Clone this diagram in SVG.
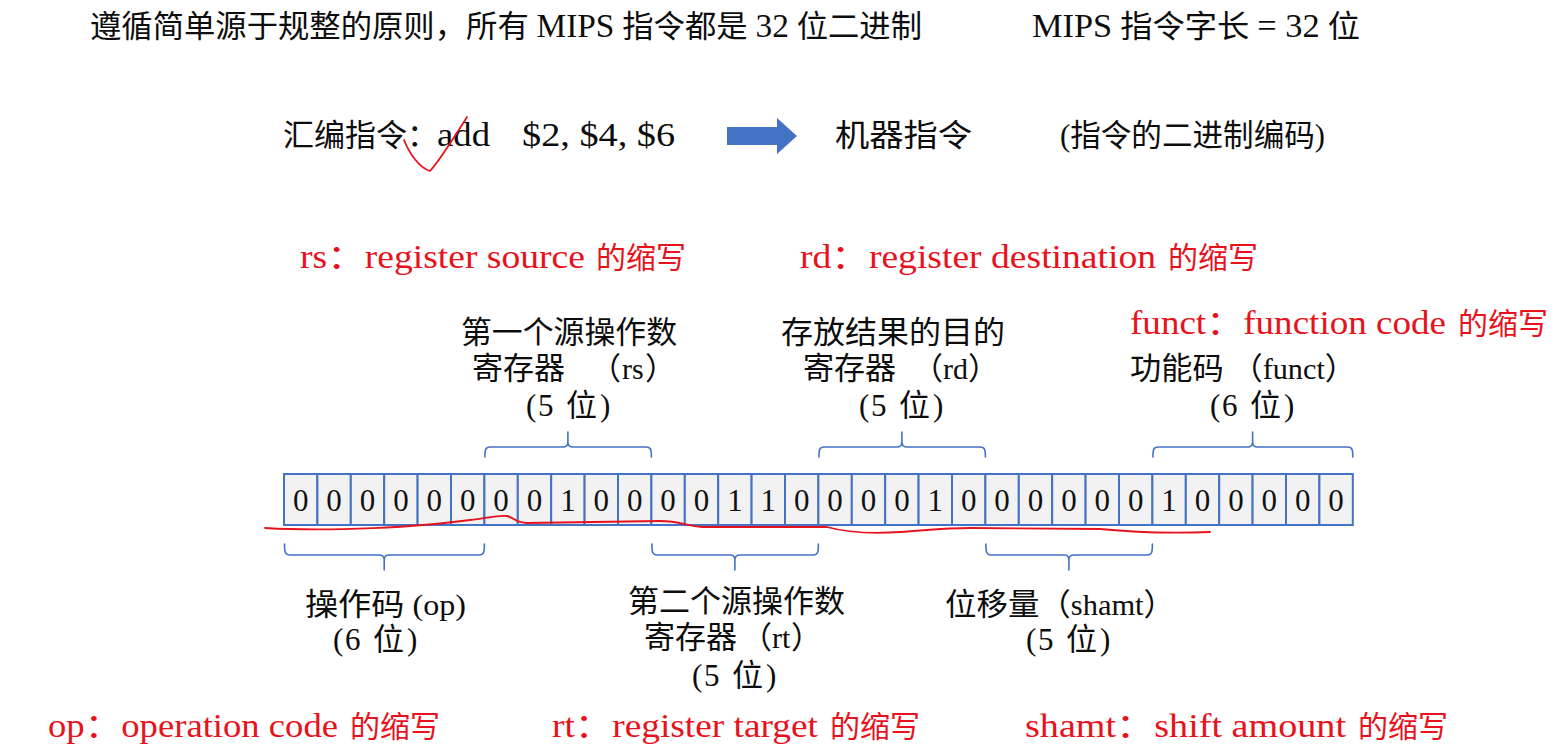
<svg xmlns="http://www.w3.org/2000/svg" width="1564" height="752" viewBox="0 0 1564 752">
  <style>
    .t { font-family: "Liberation Serif", "Noto Sans CJK SC", serif; fill: #0d0d0d; }
    .big { font-size: 31px; }
    .lbl { font-size: 31px; }
    .l { font-size: 33px; }
    .s { font-size: 30px; }
    .w { font-size: 31px; }
    .red { font-family: "Liberation Serif", "Noto Sans CJK SC", serif; fill: #e8121c; font-size: 33px; }
    .redc { font-family: "Noto Sans CJK SC", sans-serif; fill: #e8121c; font-size: 30px; }
    .cell { fill: #f2f2f2; stroke: #4472c4; stroke-width: 2; }
    .bit { font-family: "Liberation Serif", serif; font-size: 31px; fill: #111; text-anchor: middle; }
    .brace { fill: none; stroke: #4472c4; stroke-width: 1.6; stroke-linecap: round; }
    .ink { fill: none; stroke: #e8121c; stroke-width: 1.8; stroke-linecap: round; stroke-linejoin: round; }
  </style>

  <!-- headline -->
  <g id="headline">
    <text class="t big" x="90" y="37" textLength="832" lengthAdjust="spacingAndGlyphs">遵循简单源于规整的原则，所有 <tspan class="l">MIPS</tspan> 指令都是 <tspan class="l">32</tspan> 位二进制</text>
    <text class="t big" x="1032" y="37" textLength="328" lengthAdjust="spacingAndGlyphs"><tspan class="l">MIPS</tspan> 指令字长 <tspan class="l">= 32</tspan> 位</text>
  </g>

  <!-- assembly to machine code -->
  <g id="assembly">
    <text class="t big" x="283" y="146">汇编指令：</text>
    <text class="t l" x="437" y="146" textLength="53" lengthAdjust="spacingAndGlyphs">add</text>
    <text class="t l" x="522" y="146" textLength="153" lengthAdjust="spacingAndGlyphs">$2, $4, $6</text>
  </g>
  <g id="convert-arrow">
    <polygon points="727,127 777,127 777,118 797,136 777,154 777,145 727,145" fill="#4472c4"/>
  </g>
  <g id="machine">
    <text class="t big" x="835" y="146" textLength="137" lengthAdjust="spacingAndGlyphs">机器指令</text>
    <text class="t big" x="1060" y="146" textLength="265" lengthAdjust="spacingAndGlyphs">(指令的二进制编码)</text>
  </g>

  <!-- abbreviation notes -->
  <g id="notes">
    <text class="red" x="300" y="268" textLength="285" lengthAdjust="spacingAndGlyphs">rs：register source</text>
    <text class="redc" x="596" y="268">的缩写</text>
    <text class="red" x="800" y="268" textLength="356" lengthAdjust="spacingAndGlyphs">rd：register destination</text>
    <text class="redc" x="1168" y="268">的缩写</text>
    <text class="red" x="1130" y="334" textLength="316" lengthAdjust="spacingAndGlyphs">funct：function code</text>
    <text class="redc" x="1458" y="334">的缩写</text>
    <text class="red" x="48" y="737" textLength="290" lengthAdjust="spacingAndGlyphs">op：operation code</text>
    <text class="redc" x="350" y="737">的缩写</text>
    <text class="red" x="552" y="737" textLength="266" lengthAdjust="spacingAndGlyphs">rt：register target</text>
    <text class="redc" x="830" y="737">的缩写</text>
    <text class="red" x="1025" y="737" textLength="321" lengthAdjust="spacingAndGlyphs">shamt：shift amount</text>
    <text class="redc" x="1358" y="737">的缩写</text>
  </g>

  <!-- instruction fields: 32 cells, 33.4px each, starting at x=284 -->
  <g id="field-op">
    <rect class="cell" x="284" y="474" width="33.4" height="51"/>
    <rect class="cell" x="317.4" y="474" width="33.4" height="51"/>
    <rect class="cell" x="350.8" y="474" width="33.4" height="51"/>
    <rect class="cell" x="384.2" y="474" width="33.4" height="51"/>
    <rect class="cell" x="417.6" y="474" width="33.4" height="51"/>
    <rect class="cell" x="451" y="474" width="33.4" height="51"/>
    <text class="bit" y="511"><tspan x="300.7">0</tspan><tspan x="334.1">0</tspan><tspan x="367.5">0</tspan><tspan x="400.9">0</tspan><tspan x="434.3">0</tspan><tspan x="467.7">0</tspan></text>
    <path class="brace" d="M284.5,544 C284.5,552 285,555 290,555 L379,555 C383,555 384.2,557 384.2,560 L384.2,570 M384.2,560 C384.2,557 385.5,555 389,555 L479,555 C484,555 484.4,552 484.4,544"/>
    <text class="t lbl" x="305" y="615" textLength="161" lengthAdjust="spacingAndGlyphs">操作码 <tspan class="s">(op)</tspan></text>
    <text class="t lbl" y="650"><tspan class="w" x="333">(</tspan><tspan class="w" x="345">6</tspan><tspan x="373">位</tspan><tspan class="w" x="407">)</tspan></text>
  </g>

  <g id="field-rs">
    <rect class="cell" x="484.4" y="474" width="33.4" height="51"/>
    <rect class="cell" x="517.8" y="474" width="33.4" height="51"/>
    <rect class="cell" x="551.2" y="474" width="33.4" height="51"/>
    <rect class="cell" x="584.6" y="474" width="33.4" height="51"/>
    <rect class="cell" x="618" y="474" width="33.4" height="51"/>
    <text class="bit" y="511"><tspan x="501.1">0</tspan><tspan x="534.5">0</tspan><tspan x="567.9">1</tspan><tspan x="601.3">0</tspan><tspan x="634.7">0</tspan></text>
    <path class="brace" d="M484.9,457 C484.9,450 485.5,447 490,447 L563,447 C566.5,447 567.9,445 567.9,442 L567.9,432 M567.9,442 C567.9,445 569.5,447 573,447 L646,447 C651,447 651.4,450 651.4,457"/>
    <text class="t lbl" x="461" y="343" textLength="216" lengthAdjust="spacingAndGlyphs">第一个源操作数</text>
    <text class="t lbl" y="379"><tspan x="472">寄存器 </tspan><tspan x="590">（</tspan><tspan class="s" x="622">rs</tspan><tspan x="645">）</tspan></text>
    <text class="t lbl" y="416"><tspan class="w" x="526">(</tspan><tspan class="w" x="538">5</tspan><tspan x="566">位</tspan><tspan class="w" x="600">)</tspan></text>
  </g>

  <g id="field-rt">
    <rect class="cell" x="651.4" y="474" width="33.4" height="51"/>
    <rect class="cell" x="684.8" y="474" width="33.4" height="51"/>
    <rect class="cell" x="718.2" y="474" width="33.4" height="51"/>
    <rect class="cell" x="751.6" y="474" width="33.4" height="51"/>
    <rect class="cell" x="785" y="474" width="33.4" height="51"/>
    <text class="bit" y="511"><tspan x="668.1">0</tspan><tspan x="701.5">0</tspan><tspan x="734.9">1</tspan><tspan x="768.3">1</tspan><tspan x="801.7">0</tspan></text>
    <path class="brace" d="M651.9,544 C651.9,552 652.5,555 657,555 L730,555 C733.5,555 734.9,557 734.9,560 L734.9,570 M734.9,560 C734.9,557 736.5,555 740,555 L813,555 C818,555 818.4,552 818.4,544"/>
    <text class="t lbl" x="628" y="612" textLength="217" lengthAdjust="spacingAndGlyphs">第二个源操作数</text>
    <text class="t lbl" y="648"><tspan x="644">寄存器</tspan><tspan x="741">（</tspan><tspan class="s" x="772">rt</tspan><tspan x="791">）</tspan></text>
    <text class="t lbl" y="686"><tspan class="w" x="692">(</tspan><tspan class="w" x="704">5</tspan><tspan x="732">位</tspan><tspan class="w" x="766">)</tspan></text>
  </g>

  <g id="field-rd">
    <rect class="cell" x="818.4" y="474" width="33.4" height="51"/>
    <rect class="cell" x="851.8" y="474" width="33.4" height="51"/>
    <rect class="cell" x="885.2" y="474" width="33.4" height="51"/>
    <rect class="cell" x="918.6" y="474" width="33.4" height="51"/>
    <rect class="cell" x="952" y="474" width="33.4" height="51"/>
    <text class="bit" y="511"><tspan x="835.1">0</tspan><tspan x="868.5">0</tspan><tspan x="901.9">0</tspan><tspan x="935.3">1</tspan><tspan x="968.7">0</tspan></text>
    <path class="brace" d="M818.9,457 C818.9,450 819.5,447 824,447 L897,447 C900.5,447 901.9,445 901.9,442 L901.9,432 M901.9,442 C901.9,445 903.5,447 907,447 L980,447 C985,447 985.4,450 985.4,457"/>
    <text class="t lbl" x="781" y="343" textLength="224" lengthAdjust="spacingAndGlyphs">存放结果的目的</text>
    <text class="t lbl" y="379"><tspan x="803">寄存器 </tspan><tspan x="912">（</tspan><tspan class="s" x="943">rd</tspan><tspan x="968">）</tspan></text>
    <text class="t lbl" y="416"><tspan class="w" x="859">(</tspan><tspan class="w" x="871">5</tspan><tspan x="899">位</tspan><tspan class="w" x="933">)</tspan></text>
  </g>

  <g id="field-shamt">
    <rect class="cell" x="985.4" y="474" width="33.4" height="51"/>
    <rect class="cell" x="1018.8" y="474" width="33.4" height="51"/>
    <rect class="cell" x="1052.2" y="474" width="33.4" height="51"/>
    <rect class="cell" x="1085.6" y="474" width="33.4" height="51"/>
    <rect class="cell" x="1119" y="474" width="33.4" height="51"/>
    <text class="bit" y="511"><tspan x="1002.1">0</tspan><tspan x="1035.5">0</tspan><tspan x="1068.9">0</tspan><tspan x="1102.3">0</tspan><tspan x="1135.7">0</tspan></text>
    <path class="brace" d="M985.9,544 C985.9,552 986.5,555 991,555 L1064,555 C1067.5,555 1068.9,557 1068.9,560 L1068.9,570 M1068.9,560 C1068.9,557 1070.5,555 1074,555 L1147,555 C1152,555 1152.4,552 1152.4,544"/>
    <text class="t lbl" x="945" y="615" textLength="230" lengthAdjust="spacingAndGlyphs">位移量（<tspan class="s">shamt</tspan>）</text>
    <text class="t lbl" y="650"><tspan class="w" x="1026">(</tspan><tspan class="w" x="1038">5</tspan><tspan x="1066">位</tspan><tspan class="w" x="1100">)</tspan></text>
  </g>

  <g id="field-funct">
    <rect class="cell" x="1152.4" y="474" width="33.4" height="51"/>
    <rect class="cell" x="1185.8" y="474" width="33.4" height="51"/>
    <rect class="cell" x="1219.2" y="474" width="33.4" height="51"/>
    <rect class="cell" x="1252.6" y="474" width="33.4" height="51"/>
    <rect class="cell" x="1286" y="474" width="33.4" height="51"/>
    <rect class="cell" x="1319.4" y="474" width="33.4" height="51"/>
    <text class="bit" y="511"><tspan x="1169.1">1</tspan><tspan x="1202.5">0</tspan><tspan x="1235.9">0</tspan><tspan x="1269.3">0</tspan><tspan x="1302.7">0</tspan><tspan x="1336.1">0</tspan></text>
    <path class="brace" d="M1152.9,457 C1152.9,450 1153.5,447 1158,447 L1247.6,447 C1251.2,447 1252.6,445 1252.6,442 L1252.6,432 M1252.6,442 C1252.6,445 1254,447 1257.6,447 L1347.8,447 C1352.3,447 1352.8,450 1352.8,457"/>
    <text class="t lbl" x="1130" y="379" textLength="226" lengthAdjust="spacingAndGlyphs">功能码 （<tspan class="s">funct</tspan>）</text>
    <text class="t lbl" y="416"><tspan class="w" x="1210">(</tspan><tspan class="w" x="1222">6</tspan><tspan x="1250">位</tspan><tspan class="w" x="1284">)</tspan></text>
  </g>

  <!-- hand-drawn annotations -->
  <g id="annotations">
    <path class="ink" d="M404,140 C410,155 420,168 430,171 C440,160 455,136 467,117"/>
    <path class="ink" d="M265,528 C330,532 420,527 470,520 C488,518 498,515 507,516 C513,517 516,523 527,523 L660,521 C680,521 686,526 702,527 L827,527 C845,532 870,534 900,532 C930,530 945,528 970,528 L1100,529 C1130,532 1160,534 1210,532"/>
  </g>
</svg>
